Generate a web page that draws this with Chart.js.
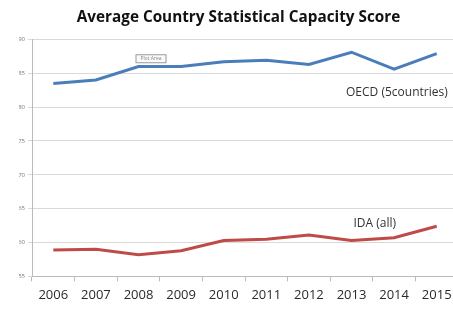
<!DOCTYPE html>
<html>
<head>
<meta charset="utf-8">
<script src="https://cdn.jsdelivr.net/npm/chart.js"></script>
<style>
    html, body { margin: 0; padding: 0; background: #fff; overflow: hidden; }
    #wrap { width: 458px; height: 312px; }
</style>
</head>
<body>
<div id="wrap"><canvas id="capacityChart" width="458" height="312"></canvas></div>
<script>
const years = ['2006', '2007', '2008', '2009', '2010', '2011', '2012', '2013', '2014', '2015'];
const oecdScores = [83.5, 84.0, 86.0, 86.0, 86.7, 86.9, 86.3, 88.1, 85.6, 87.9];
const idaScores = [58.9, 59.0, 58.2, 58.8, 60.3, 60.5, 61.1, 60.3, 60.7, 62.4];
const yTicks = [55, 60, 65, 70, 75, 80, 85, 90];

const FONT = '"Open Sans", "Liberation Sans", sans-serif';

// text labels next to the lines + the little Excel "Plot Area" tooltip
const notesPlugin = {
    id: 'notes',
    afterDatasetsDraw(chart) {
        const ctx = chart.ctx;
        const x = chart.scales.x;
        const y = chart.scales.y;
        ctx.save();
        ctx.fillStyle = '#333';
        ctx.font = '12px ' + FONT;
        ctx.textBaseline = 'middle';
        ctx.textAlign = 'right';
        ctx.fillText('OECD (5countries)', x.getPixelForValue(9) + 11, y.getPixelForValue(82.2));
        ctx.textAlign = 'left';
        ctx.fillText('IDA (all)', x.getPixelForValue(7) + 2, y.getPixelForValue(62.8));

        // "Plot Area" hover box
        const bx = x.getPixelForValue(2) - 3, by = y.getPixelForValue(87.8);
        ctx.fillStyle = '#fafafa';
        ctx.strokeStyle = '#999';
        ctx.lineWidth = 1;
        ctx.fillRect(bx + 0.5, by + 0.5, 30, 8);
        ctx.strokeRect(bx + 0.5, by + 0.5, 30, 8);
        ctx.fillStyle = '#888';
        ctx.font = '5px ' + FONT;
        ctx.textAlign = 'center';
        ctx.fillText('Plot Area', bx + 15.5, by + 4.5);
        ctx.restore();
    }
};

new Chart(document.getElementById('capacityChart').getContext('2d'), {
    type: 'line',
    data: {
        labels: years,
        datasets: [
            {
                label: 'OECD (5countries)',
                data: oecdScores,
                borderColor: '#4a7ebb',
                borderWidth: 3,
                pointRadius: 0,
                tension: 0
            },
            {
                label: 'IDA (all)',
                data: idaScores,
                borderColor: '#be4b48',
                borderWidth: 3,
                pointRadius: 0,
                tension: 0
            }
        ]
    },
    options: {
        responsive: false,
        animation: false,
        // left padding shifts the title centre right; y axis is narrowed to keep the plot at x=32
        layout: { padding: { left: 19, right: 0, top: 0, bottom: 3 } },
        plugins: {
            legend: { display: false },
            tooltip: { enabled: false },
            title: {
                display: true,
                text: 'Average Country Statistical Capacity Score',
                color: '#111',
                font: { family: FONT, size: 15.3, weight: 'bold' },
                padding: { top: 8, bottom: 13 }
            }
        },
        scales: {
            x: {
                offset: true,
                grid: {
                    offset: true,
                    drawOnChartArea: false,
                    drawTicks: true,
                    tickLength: 5,
                    color: '#bbb'
                },
                border: { color: '#bbb' },
                ticks: {
                    color: '#2a2a2a',
                    padding: 6,
                    font: { family: FONT, size: 13 }
                }
            },
            y: {
                min: 55,
                max: 90,
                afterBuildTicks: (axis) => { axis.ticks = yTicks.map(v => ({ value: v })); },
                afterFit: (axis) => { axis.width = 13; },
                grid: { color: '#d9d9d9', tickLength: 4 },
                border: { color: '#bbb' },
                ticks: {
                    color: '#777',
                    padding: 3,
                    font: { family: FONT, size: 6 }
                }
            }
        }
    },
    plugins: [notesPlugin]
});
</script>
</body>
</html>
